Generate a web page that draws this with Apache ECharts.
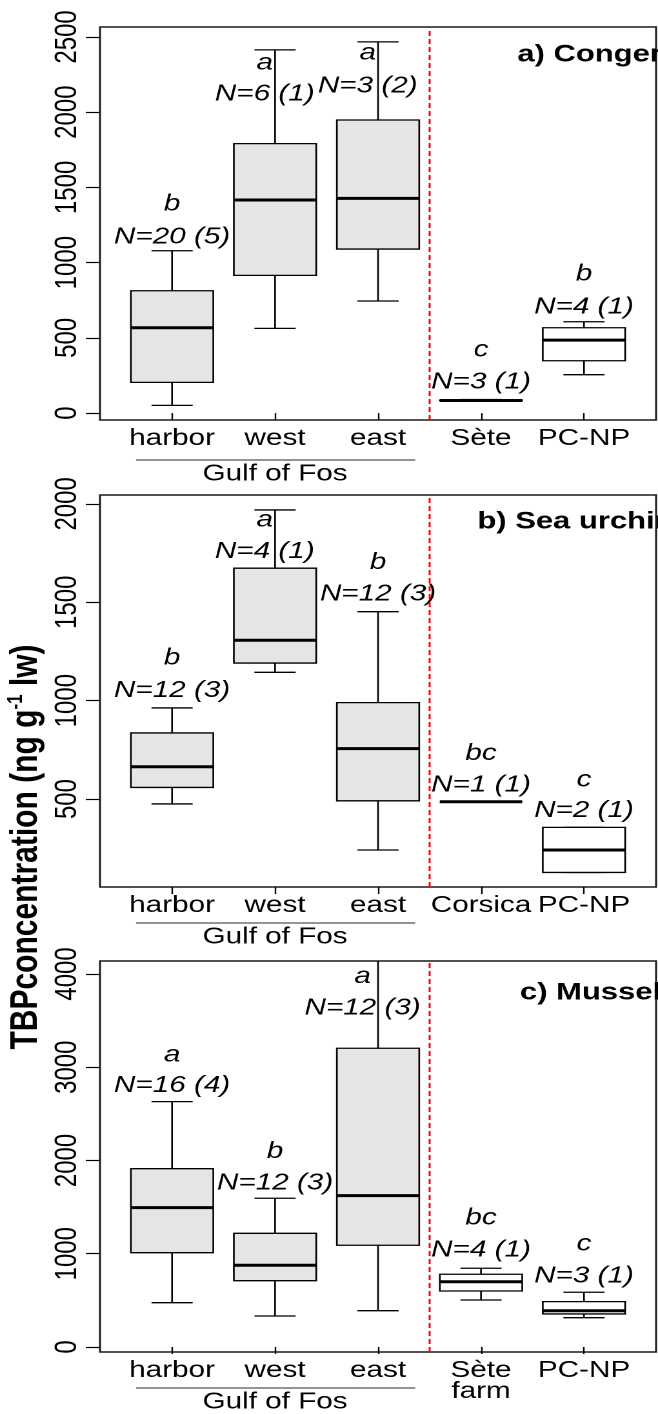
<!DOCTYPE html>
<html><head><meta charset="utf-8">
<script src="https://cdn.jsdelivr.net/npm/echarts@6/dist/echarts.min.js"></script>
<style>
html,body{margin:0;padding:0;background:#fff;overflow:hidden}
#wrap{width:658px;height:1414px;overflow:hidden;position:relative}
#c{width:510px;height:1414px;transform:scaleX(1.290196);transform-origin:0 0}
</style>
</head><body><div id="wrap"><div id="c"></div></div>
<script>
// ---------- data ----------
const categoriesA = ['harbor', 'west', 'east', 'Sète', 'PC-NP'];
const categoriesB = ['harbor', 'west', 'east', 'Corsica', 'PC-NP'];
const categoriesC = ['harbor', 'west', 'east', 'Sète\nfarm', 'PC-NP'];

// [min, Q1, median, Q3, max]
const boxA = [[51, 204, 567, 813, 1079], [563, 915, 1416, 1791, 2414], [745, 1090, 1427, 1948, 2467], [78, 82, 84, 86, 90], [255, 348, 485, 567, 607]];
const boxB = [[475, 559, 664, 836, 963], [1144, 1191, 1307, 1673, 1969], [241, 491, 756, 990, 1452], [486, 486, 486, 486, 486], [127, 127, 241, 356, 356]];
const boxC = [[475, 1011, 1494, 1912, 2631], [332, 711, 876, 1219, 1595], [389, 1091, 1623, 3203, 4300], [504, 600, 700, 780, 844], [314, 354, 389, 486, 587]];

const lettersA = ['b', 'a', 'a', 'c', 'b'];
const lettersB = ['b', 'a', 'b', 'bc', 'c'];
const lettersC = ['a', 'b', 'a', 'bc', 'c'];
const nLabelsA = ['N=20 (5)', 'N=6 (1)', 'N=3 (2)', 'N=3 (1)', 'N=4 (1)'];
const nLabelsB = ['N=12 (3)', 'N=4 (1)', 'N=12 (3)', 'N=1 (1)', 'N=2 (1)'];
const nLabelsC = ['N=16 (4)', 'N=12 (3)', 'N=12 (3)', 'N=4 (1)', 'N=3 (1)'];
// annotation anchors (x in category units, y in data units)
const labelXA = [1, 1.9, 2.9, 4, 5];
const labelXB = [1, 1.9, 3, 4, 5];
const labelXC = [1, 2, 2.85, 4, 5];
const letterYA = [1390, 2327, 2394, 419, 924];
const nYA = [1170, 2121, 2174, 206, 705];
const letterYB = [1215, 1918, 1701, 732, 597];
const nYB = [1050, 1757, 1542, 571, 440];
const letterYC = [3131, 2094, 3971, 1380, 1105];
const nYC = [2802, 1755, 3632, 1040, 761];

const ticksA = [0, 500, 1000, 1500, 2000, 2500];
const ticksB = [500, 1000, 1500, 2000];
const ticksC = [0, 1000, 2000, 3000, 4000];
const rangeA = [-46, 2566];
const rangeB = [53, 2045];
const rangeC = [-54, 4139];

const titles = ['a) Conger', 'b) Sea urchin', 'c) Mussel'];
const groupName = 'Gulf of Fos';
const gulfCount = 3;
const separatorX = 3.5;
const yName = 'TBPconcentration';

// ---------- rendering ----------
const FONT = '"Liberation Sans", Arial, Helvetica, sans-serif';
const BOX_W = 0.8, CAP_W = 0.4;

const panels = [
  {cats: categoriesA, box: boxA, letters: lettersA, nl: nLabelsA, lx: labelXA, ly: letterYA, ny: nYA, ticks: ticksA, range: rangeA, top: 27, height: 393, title: titles[0], tx: 401, ty: 55},
  {cats: categoriesB, box: boxB, letters: lettersB, nl: nLabelsB, lx: labelXB, ly: letterYB, ny: nYB, ticks: ticksB, range: rangeB, top: 495, height: 392, title: titles[1], tx: 370, ty: 522},
  {cats: categoriesC, box: boxC, letters: lettersC, nl: nLabelsC, lx: labelXC, ly: letterYC, ny: nYC, ticks: ticksC, range: rangeC, top: 961, height: 391, title: titles[2], tx: 403, ty: 993}
];

const grid = [], xAxis = [], yAxis = [], series = [], graphic = [];
const xTicks = [1, 2, 3, 4, 5];

panels.forEach((p, k) => {
  grid.push({left: 77.5, right: 1.5, top: p.top, height: p.height, show: true, borderColor: '#1a1a1a', borderWidth: 1.5, backgroundColor: 'transparent', containLabel: false, outerBoundsMode: 'none'});
  xAxis.push({
    gridIndex: k, type: 'value', min: 0.3, max: 5.7,
    axisLine: {show: false},
    axisTick: {show: true, length: 7, customValues: xTicks, lineStyle: {color: '#000', width: 1.2}},
    axisLabel: {show: true, customValues: xTicks, hideOverlap: false, formatter: v => p.cats[Math.round(v) - 1] || '', fontSize: 23, fontFamily: FONT, color: '#000', margin: 8, lineHeight: 21},
    splitLine: {show: false}
  });
  yAxis.push({
    gridIndex: k, type: 'value', min: p.range[0], max: p.range[1],
    axisLine: {show: false},
    axisTick: {show: true, length: 11, customValues: p.ticks, lineStyle: {color: '#000', width: 1.2}},
    axisLabel: {show: true, customValues: p.ticks, hideOverlap: false, rotate: 90, formatter: v => String(Math.round(v)), fontSize: 24, fontFamily: FONT, color: '#000', margin: 13},
    splitLine: {show: false}
  });
  // boxes
  series.push({
    type: 'custom', xAxisIndex: k, yAxisIndex: k, clip: true, z: 3,
    data: p.box.map((b, i) => [i + 1].concat(b)),
    encode: {x: 0, y: [1, 2, 3, 4, 5]},
    renderItem: function (params, api) {
      const x = api.value(0);
      const c = v => api.coord([x, v]);
      const pMin = c(api.value(1)), pQ1 = c(api.value(2)), pMd = c(api.value(3)), pQ3 = c(api.value(4)), pMax = c(api.value(5));
      const cx = pMd[0];
      const half = api.size([BOX_W, 0])[0] / 2;
      const capHalf = api.size([CAP_W, 0])[0] / 2;
      const fill = params.dataIndex < gulfCount ? '#e5e5e5' : '#ffffff';
      const ls = {stroke: '#000', lineWidth: 1.3};
      return {type: 'group', children: [
        {type: 'line', shape: {x1: cx, y1: pQ3[1], x2: cx, y2: pMax[1]}, style: ls},
        {type: 'line', shape: {x1: cx, y1: pQ1[1], x2: cx, y2: pMin[1]}, style: ls},
        {type: 'line', shape: {x1: cx - capHalf, y1: pMax[1], x2: cx + capHalf, y2: pMax[1]}, style: ls},
        {type: 'line', shape: {x1: cx - capHalf, y1: pMin[1], x2: cx + capHalf, y2: pMin[1]}, style: ls},
        {type: 'rect', shape: {x: cx - half, y: pQ3[1], width: half * 2, height: pQ1[1] - pQ3[1]}, style: {fill: fill, stroke: '#000', lineWidth: 1.3}},
        {type: 'line', shape: {x1: cx - half, y1: pMd[1], x2: cx + half, y2: pMd[1]}, style: {stroke: '#000', lineWidth: 3}}
      ]};
    },
    markLine: {
      silent: true, symbol: ['none', 'none'], label: {show: false},
      lineStyle: {color: '#ff0000', type: [5, 3], width: 1.5},
      data: [{xAxis: separatorX}]
    }
  });
  // annotations
  series.push({
    type: 'custom', xAxisIndex: k, yAxisIndex: k, clip: false, z: 4,
    data: p.lx.map((x, i) => [x, p.ny[i]]),
    renderItem: function (params, api) {
      const i = params.dataIndex;
      const a = api.coord([p.lx[i], p.ly[i]]);
      const b = api.coord([p.lx[i], p.ny[i]]);
      const st = t => ({text: t, fill: '#000', font: 'italic 23px ' + FONT, align: 'center', verticalAlign: 'middle', textAlign: 'center', textVerticalAlign: 'middle'});
      return {type: 'group', children: [
        {type: 'text', x: a[0], y: a[1], style: st(p.letters[i])},
        {type: 'text', x: b[0], y: b[1], style: st(p.nl[i])}
      ]};
    }
  });
  // group bracket
  series.push({
    type: 'custom', xAxisIndex: k, yAxisIndex: k, clip: false, z: 4,
    data: [[0.65, 3.36, 2]],
    renderItem: function (params, api) {
      const y0 = p.range[0];
      const a = api.coord([api.value(0), y0]);
      const b = api.coord([api.value(1), y0]);
      const m = api.coord([api.value(2), y0]);
      const ly = a[1] + (k === 0 ? 40 : 36);
      return {type: 'group', children: [
        {type: 'line', shape: {x1: a[0], y1: ly, x2: b[0], y2: ly}, style: {stroke: '#555', lineWidth: 1.2}},
        {type: 'text', x: m[0], y: ly + 14, style: {text: groupName, fill: '#000', font: '23px ' + FONT, align: 'center', verticalAlign: 'middle', textAlign: 'center', textVerticalAlign: 'middle'}}
      ]};
    }
  });
  graphic.push({type: 'text', x: p.tx, y: p.ty, z: 10, style: {text: p.title, fill: '#000', font: 'bold 24px ' + FONT, align: 'left', verticalAlign: 'middle', textAlign: 'left', textVerticalAlign: 'middle'}});
});

graphic.push({
  type: 'text', x: 20, y: 847, rotation: Math.PI / 2, z: 10,
  style: {
    text: '{a|' + yName + ' (ng g}{s|-1}{a| lw)}',
    align: 'center', verticalAlign: 'middle', textAlign: 'center', textVerticalAlign: 'middle',
    rich: {
      a: {fontSize: 30, fontWeight: 'bold', fontFamily: FONT, fill: '#000', color: '#000', lineHeight: 32},
      s: {fontSize: 17, fontWeight: 'bold', fontFamily: FONT, fill: '#000', color: '#000', lineHeight: 32, verticalAlign: 'top', padding: [0, 0, 12, 0]}
    }
  }
});

const chart = echarts.init(document.getElementById('c'), null, {renderer: 'canvas', devicePixelRatio: 2});
chart.setOption({animation: false, backgroundColor: '#fff', grid, xAxis, yAxis, series, graphic});
</script>
</body></html>
